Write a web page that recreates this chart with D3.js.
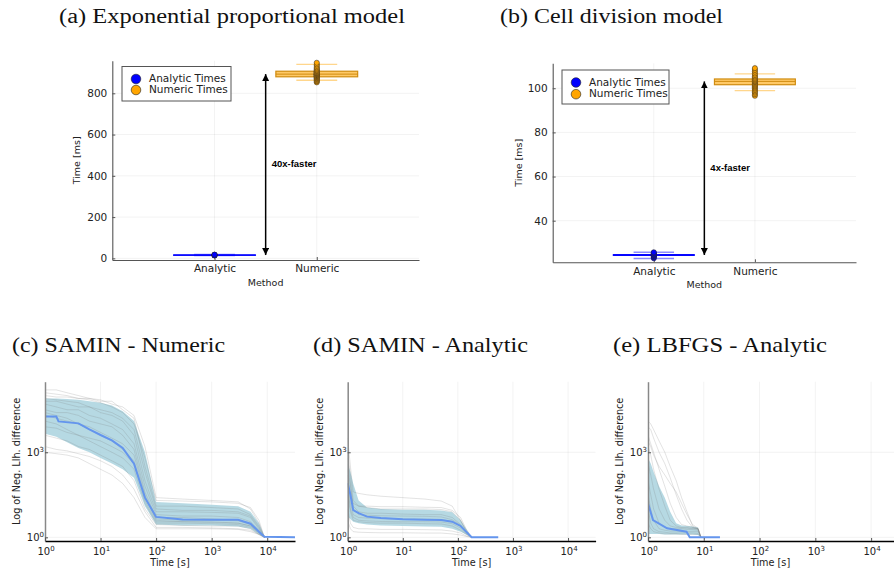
<!DOCTYPE html>
<html lang="en">
<head>
<meta charset="UTF-8">
<title>Analytic vs numeric gradients</title>
<script src="https://cdn.jsdelivr.net/npm/d3@7"></script>
<style>
  body { margin: 0; padding: 0; background: #fff; }
  svg { display: block; font-family: "DejaVu Sans", sans-serif; }
  .title { font-family: "Liberation Serif", serif; fill: #111; }
  .tick text { font-family: "DejaVu Sans", sans-serif; }
</style>
</head>
<body>
<svg width="894" height="572"></svg>
<script>
// ---------- data: timing box plots (ms) ----------
const methods = ['Analytic', 'Numeric']
const aTicks = [0, 200, 400, 600, 800]
const bTicks = [40, 60, 80, 100]
// [lower whisker, q1, median, q3, upper whisker]
const aAnalyticBox = [13, 15.6, 16, 16.4, 19]
const aNumericBox = [863, 880, 893, 907, 940]
const bAnalyticBox = [22.9, 24.3, 24.45, 24.6, 25.7]
const bNumericBox = [98.9, 101.6, 103.1, 104.2, 106.5]
const aAnalyticTimes = [14, 15, 15.5, 16, 16, 16.5, 17, 18]
const aNumericTimes = [853, 858, 862, 866, 870, 873, 876, 879, 881, 883, 885, 887, 889, 890, 892,
  893, 895, 897, 899, 901, 903, 905, 908, 911, 915, 920, 926, 933, 940, 948]
const bAnalyticTimes = [23.0, 23.4, 23.8, 24.1, 24.3, 24.4, 24.5, 24.6, 24.8, 25.1, 25.4, 25.7]
const bNumericTimes = [96.6, 97.3, 98.0, 98.6, 99.2, 99.8, 100.3, 100.8, 101.2, 101.6, 102.0, 102.4,
  102.8, 103.1, 103.5, 103.9, 104.3, 104.8, 105.4, 106.0, 106.7, 107.5, 108.3, 109.1]

// ---------- data: convergence traces (time in s, values as log10 of neg. llh difference) ----------
const cTimes = [1, 1.6, 2.5, 4, 6.3, 10, 16, 25, 40, 63, 100, 300, 1000, 3000, 5000, 7100, 8900]
const cUpper = [4.9, 4.9, 4.88, 4.85, 4.8, 4.75, 4.65, 4.45, 4.1, 3.0, 1.25, 1.2, 1.15, 1.1, 0.9, 0.5, 0.05]
const cLower = [3.65, 3.55, 3.35, 3.15, 3.0, 2.8, 2.6, 2.4, 2.1, 1.1, 0.45, 0.42, 0.42, 0.38, 0.3, 0.1, 0]
const cMedTimes = [1, 1.6, 1.75, 4, 6.3, 10, 16, 25, 40, 63, 100, 300, 1000, 3000, 5000, 7100, 8900, 31600]
const cMedian = [4.26, 4.26, 4.09, 4.02, 3.81, 3.61, 3.42, 3.15, 2.6, 1.4, 0.72, 0.63, 0.62, 0.62, 0.48, 0.2, 0.02, 0]
const cTraces = [
  [5.2, 5.2, 5.1, 5.0, 4.9, 4.85, 4.7, 4.6, 4.3, 3.2, 1.4, 1.35, 1.3, 1.25, 1.0, 0.5, 0],
  [5.0, 4.95, 4.95, 4.9, 4.9, 4.8, 4.8, 4.5, 4.2, 2.5, 1.1, 1.1, 1.05, 1.0, 0.8, 0.4, 0],
  [4.7, 4.6, 4.5, 4.5, 4.3, 4.2, 4.0, 3.8, 3.3, 1.8, 0.8, 0.75, 0.75, 0.7, 0.55, 0.25, 0],
  [4.4, 4.3, 4.2, 4.0, 3.9, 3.7, 3.5, 3.3, 2.9, 1.5, 0.6, 0.55, 0.55, 0.5, 0.4, 0.2, 0],
  [4.1, 4.0, 3.8, 3.6, 3.4, 3.2, 3.0, 2.8, 2.4, 1.2, 0.5, 0.5, 0.48, 0.45, 0.35, 0.15, 0],
  [3.0, 2.95, 2.9, 2.8, 2.6, 2.4, 2.2, 1.9, 1.4, 0.7, 0.3, 0.3, 0.3, 0.28, 0.2, 0.1, 0],
  [3.2, 3.1, 3.05, 2.95, 2.85, 2.7, 2.5, 2.2, 1.7, 0.9, 0.35, 0.35, 0.33, 0.3, 0.25, 0.1, 0],
  [4.8, 4.8, 4.7, 4.6, 4.6, 4.4, 4.3, 4.1, 3.6, 2.0, 0.9, 0.9, 0.88, 0.85, 0.7, 0.3, 0],
  [4.5, 4.4, 4.4, 4.3, 4.1, 4.0, 3.9, 3.6, 3.1, 1.6, 0.7, 0.7, 0.65, 0.6, 0.5, 0.2, 0],
  [3.6, 3.5, 3.4, 3.2, 3.1, 2.9, 2.7, 2.5, 2.0, 1.0, 0.45, 0.42, 0.4, 0.4, 0.3, 0.1, 0],
  [5.1, 5.05, 5.0, 4.9, 4.85, 4.75, 4.6, 4.4, 4.0, 2.8, 1.3, 1.28, 1.25, 1.2, 1.05, 0.6, 0],
  [3.9, 3.85, 3.7, 3.6, 3.5, 3.4, 3.2, 3.0, 2.6, 1.3, 0.55, 0.55, 0.52, 0.5, 0.4, 0.15, 0],
  [4.3, 4.2, 4.1, 4.0, 3.8, 3.6, 3.4, 3.1, 2.7, 1.4, 0.65, 0.6, 0.6, 0.58, 0.45, 0.2, 0],
  [4.9, 4.85, 4.8, 4.75, 4.6, 4.5, 4.4, 4.2, 3.8, 2.3, 1.0, 0.95, 0.95, 0.9, 0.75, 0.35, 0]
]

const dTimes = [1, 1.12, 1.26, 1.58, 2.24, 4, 10, 25, 50, 79, 112, 141, 178]
const dUpper = [2.61, 2.3, 1.9, 1.3, 1.05, 1.0, 0.97, 0.97, 0.95, 0.88, 0.6, 0.3, 0]
const dLower = [0.73, 0.65, 0.55, 0.5, 0.45, 0.42, 0.4, 0.38, 0.37, 0.3, 0.2, 0.1, 0]
const dMedTimes = [1, 1.12, 1.26, 1.58, 2.24, 4, 10, 25, 50, 79, 112, 141, 178, 540]
const dMedian = [1.91, 1.5, 0.96, 0.85, 0.73, 0.68, 0.64, 0.62, 0.61, 0.55, 0.4, 0.2, 0, 0]
const dTraces = [
  [3.5, 2.5, 1.6, 1.55, 1.5, 1.45, 1.4, 1.35, 1.28, 1.1, 0.6, 0.2, 0],
  [3.0, 2.2, 1.3, 1.1, 1.05, 1.0, 1.0, 1.0, 0.98, 0.9, 0.6, 0.25, 0],
  [2.4, 1.8, 1.1, 0.9, 0.85, 0.85, 0.82, 0.8, 0.8, 0.7, 0.45, 0.2, 0],
  [2.0, 1.2, 0.8, 0.7, 0.68, 0.66, 0.65, 0.64, 0.63, 0.55, 0.4, 0.15, 0],
  [1.5, 0.9, 0.6, 0.55, 0.52, 0.5, 0.5, 0.48, 0.47, 0.4, 0.25, 0.1, 0],
  [1.0, 0.5, 0.35, 0.3, 0.3, 0.28, 0.28, 0.27, 0.26, 0.22, 0.15, 0.05, 0],
  [2.8, 1.9, 1.0, 0.8, 0.78, 0.76, 0.75, 0.74, 0.72, 0.62, 0.42, 0.18, 0],
  [0.6, 0.3, 0.2, 0.18, 0.17, 0.16, 0.16, 0.15, 0.15, 0.12, 0.08, 0.03, 0],
  [2.2, 1.5, 1.2, 1.1, 1.1, 1.08, 1.08, 1.06, 1.05, 0.95, 0.7, 0.3, 0],
  [1.8, 1.0, 0.7, 0.6, 0.58, 0.56, 0.55, 0.55, 0.54, 0.48, 0.33, 0.12, 0]
]

const eTimes = [1, 1.12, 1.26, 1.58, 2.0, 2.5, 3.2, 4.0, 5.0, 6.3, 7.9, 8.9]
const eUpper = [2.8, 2.6, 2.3, 1.8, 1.4, 0.9, 0.5, 0.42, 0.4, 0.38, 0.35, 0]
const eLower = [0.12, 0.12, 0.12, 0.12, 0.1, 0.1, 0.1, 0.1, 0.1, 0.1, 0.08, 0]
const eMedTimes = [1, 1.23, 2.2, 4.9, 5.6, 19.5]
const eMedian = [1.2, 0.61, 0.32, 0.2, 0, 0]
const eTraces = [
  [4.1, 4.0, 3.8, 3.4, 3.0, 2.5, 2.0, 1.4, 0.9, 0.4, 0.3, 0],
  [3.9, 3.8, 3.5, 3.0, 2.6, 2.1, 1.5, 1.0, 0.6, 0.35, 0.3, 0],
  [3.6, 3.3, 3.0, 2.4, 1.8, 1.2, 0.7, 0.45, 0.4, 0.35, 0.3, 0],
  [3.2, 2.9, 2.4, 1.7, 1.1, 0.6, 0.4, 0.35, 0.35, 0.32, 0.3, 0],
  [2.6, 2.2, 1.7, 1.0, 0.6, 0.4, 0.35, 0.33, 0.32, 0.3, 0.28, 0],
  [2.0, 1.5, 1.0, 0.5, 0.35, 0.3, 0.3, 0.3, 0.28, 0.27, 0.25, 0],
  [1.5, 1.0, 0.6, 0.3, 0.25, 0.22, 0.22, 0.2, 0.2, 0.2, 0.2, 0],
  [1.0, 0.5, 0.3, 0.2, 0.18, 0.15, 0.15, 0.15, 0.15, 0.15, 0.14, 0],
  [0.5, 0.3, 0.2, 0.15, 0.12, 0.12, 0.12, 0.1, 0.1, 0.1, 0.1, 0],
  [3.4, 3.2, 2.9, 2.5, 2.2, 1.9, 1.6, 1.2, 0.8, 0.45, 0.32, 0]
]
const logTicksX = [1, 10, 100, 1000, 10000]
const logTicksY = [1, 1000]

// ---------- drawing ----------
const svg = d3.select('svg')
const colors = ['#0000ff', '#ffa500']

const defs = svg.append('defs')
defs.append('marker')
    .attr('id', 'head')
    .attr('viewBox', '0 0 10 10')
    .attr('refX', 10).attr('refY', 5)
    .attr('markerWidth', 7).attr('markerHeight', 7)
    .attr('markerUnits', 'userSpaceOnUse')
    .attr('orient', 'auto-start-reverse')
  .append('path')
    .attr('d', 'M0,0L10,5L0,10z')
    .attr('fill', '#000')

var title = (txt, x, y, size, len) => {
    svg.append('text')
        .attr('class', 'title')
        .attr('x', x).attr('y', y)
        .attr('font-size', size)
        .attr('textLength', len)
        .attr('lengthAdjust', 'spacingAndGlyphs')
        .text(txt)
}

function drawBoxPanel(p) {
    const x = d3.scaleLinear().domain([0, 3]).range([p.left, p.right])
    const y = d3.scaleLinear().domain(p.yDomain).range([p.bottom, p.top])
    const g = svg.append('g')

    // grid
    g.selectAll('line.hg').data(p.yTicks).enter().append('line')
        .attr('x1', p.left).attr('x2', p.right)
        .attr('y1', d => y(d)).attr('y2', d => y(d))
        .attr('stroke', '#000').attr('stroke-opacity', 0.08).attr('stroke-width', 0.7)
    g.selectAll('line.vg').data(methods).enter().append('line')
        .attr('x1', (d, i) => x(i + 1)).attr('x2', (d, i) => x(i + 1))
        .attr('y1', p.top).attr('y2', p.bottom)
        .attr('stroke', '#000').attr('stroke-opacity', 0.08).attr('stroke-width', 0.7)

    // axes
    const ya = g.append('g').attr('transform', `translate(${p.left},0)`)
        .call(d3.axisLeft(y).tickValues(p.yTicks).tickSize(-3).tickSizeOuter(0).tickPadding(5))
    const xa = g.append('g').attr('transform', `translate(0,${p.bottom})`)
        .call(d3.axisBottom(x).tickValues([1, 2]).tickFormat(d => methods[d - 1])
            .tickSize(-3).tickSizeOuter(0).tickPadding(5))
    ;[ya, xa].forEach(a => {
        a.select('.domain').attr('stroke', '#555').attr('stroke-width', 1.1)
        a.selectAll('.tick line').attr('stroke', '#555')
        a.selectAll('.tick text').attr('font-size', 10.5).attr('fill', '#222')
    })

    g.append('text')
        .attr('transform', `translate(${p.ylabX},${(p.top + p.bottom) / 2}) rotate(-90)`)
        .attr('text-anchor', 'middle').attr('dominant-baseline', 'middle')
        .attr('font-size', 9.5).attr('fill', '#222')
        .text('Time [ms]')
    g.append('text')
        .attr('x', (p.left + p.right) / 2).attr('y', p.bottom + 26)
        .attr('text-anchor', 'middle')
        .attr('font-size', 9.5).attr('fill', '#222')
        .text('Method')

    // boxes
    p.boxes.forEach((b, i) => {
        const cx = x(i + 1), col = colors[i]
        const hw = x(0.4) - x(0), cw = x(0.2) - x(0)
        const bg = g.append('g')
        bg.append('line').attr('x1', cx).attr('x2', cx).attr('y1', y(b[0])).attr('y2', y(b[4]))
            .attr('stroke', col).attr('stroke-opacity', 0.5)
        ;[b[0], b[4]].forEach(v => {
            bg.append('line').attr('x1', cx - cw).attr('x2', cx + cw).attr('y1', y(v)).attr('y2', y(v))
                .attr('stroke', col).attr('stroke-opacity', 0.45).attr('stroke-width', 1.4)
        })
        bg.append('rect')
            .attr('x', cx - hw).attr('width', 2 * hw)
            .attr('y', y(b[3])).attr('height', Math.max(y(b[1]) - y(b[3]), 0.3))
            .attr('fill', col).attr('fill-opacity', 0.6)
            .attr('stroke', i == 0 ? col : '#d08c10').attr('stroke-width', 1.2)
        bg.append('line').attr('x1', cx - hw).attr('x2', cx + hw).attr('y1', y(b[2])).attr('y2', y(b[2]))
            .attr('stroke', i == 0 ? col : '#d08c10').attr('stroke-width', 1)
        bg.selectAll('circle').data(p.times[i]).enter().append('circle')
            .attr('cx', cx).attr('cy', d => y(d)).attr('r', 2.6)
            .attr('fill', col).attr('stroke', '#222').attr('stroke-width', 0.5)
    })

    // speed-up arrow
    const ax = x(1.5)
    const ay0 = y(p.boxes[0][2]), ay1 = y(p.boxes[1][2])
    g.append('line')
        .attr('x1', ax).attr('x2', ax).attr('y1', ay0).attr('y2', ay1)
        .attr('stroke', '#000').attr('stroke-width', 1.5)
        .attr('marker-start', 'url(#head)').attr('marker-end', 'url(#head)')
    g.append('text')
        .attr('x', ax + 6).attr('y', (ay0 + ay1) / 2)
        .attr('dominant-baseline', 'middle')
        .attr('font-family', '"Liberation Sans", Arial, sans-serif')
        .attr('font-weight', 'bold').attr('font-size', 9.5)
        .text(p.speedup)

    // legend
    const L = p.legend
    const lg = g.append('g')
    lg.append('rect').attr('x', L.x).attr('y', L.y).attr('width', L.w).attr('height', L.h)
        .attr('fill', '#fff').attr('stroke', '#555').attr('stroke-width', 1)
    ;['Analytic Times', 'Numeric Times'].forEach((t, i) => {
        const yy = L.y + 12.5 + i * L.dy
        lg.append('circle').attr('cx', L.x + 14).attr('cy', yy).attr('r', 4.8)
            .attr('fill', colors[i]).attr('stroke', '#222').attr('stroke-width', 0.6)
        lg.append('text').attr('x', L.x + 27).attr('y', yy).attr('dominant-baseline', 'middle')
            .attr('font-size', 10.5).attr('fill', '#222').text(t)
    })
}

function drawTracePanel(p) {
    const top = 381.7, bottom = 541
    const x = d3.scaleLog().domain([1, Math.pow(10, 4.5)]).range([p.left, p.right])
    const y = d3.scaleLog().domain([Math.pow(10, -0.13), Math.pow(10, 5.49)]).range([bottom, top])
    const g = svg.append('g')
    const clipId = 'clip' + p.id
    defs.append('clipPath').attr('id', clipId)
        .append('rect').attr('x', p.left).attr('y', top).attr('width', p.right - p.left).attr('height', bottom - top)

    g.selectAll('line.vg').data(logTicksX.slice(1)).enter().append('line')
        .attr('x1', d => x(d)).attr('x2', d => x(d)).attr('y1', top).attr('y2', bottom)
        .attr('stroke', '#000').attr('stroke-opacity', 0.08).attr('stroke-width', 0.7)
    g.selectAll('line.hg').data(logTicksY).enter().append('line')
        .attr('x1', p.left).attr('x2', p.right).attr('y1', d => y(d)).attr('y2', d => y(d))
        .attr('stroke', '#000').attr('stroke-opacity', 0.08).attr('stroke-width', 0.7)

    const pg = g.append('g').attr('clip-path', `url(#${clipId})`)
    const p10 = v => Math.pow(10, v)

    const band = d3.area()
        .x((d, i) => x(p.times[i]))
        .y0((d, i) => y(p10(p.lower[i])))
        .y1((d, i) => y(p10(p.upper[i])))
    pg.append('path').datum(p.upper).attr('d', band)
        .attr('fill', '#a9d2de').attr('fill-opacity', 0.85)

    const trace = d3.line()
        .x((d, i) => x(p.times[i]))
        .y(d => y(p10(d)))
    pg.selectAll('path.tr').data(p.traces).enter().append('path')
        .attr('d', trace)
        .attr('fill', 'none').attr('stroke', '#777')
        .attr('stroke-opacity', 0.35).attr('stroke-width', 0.6)

    const med = d3.line()
        .x((d, i) => x(p.medTimes[i]))
        .y(d => y(p10(d)))
    pg.append('path').datum(p.median).attr('d', med)
        .attr('fill', 'none').attr('stroke', '#6495ed').attr('stroke-width', 2)

    // axes
    const ya = g.append('g').attr('transform', `translate(${p.left},0)`)
        .call(d3.axisLeft(y).tickValues(logTicksY).tickFormat('').tickSize(-3).tickSizeOuter(0))
    ya.select('.domain').attr('stroke', '#888').attr('stroke-width', 1.5)
    ya.selectAll('.tick line').attr('stroke', '#555')
    const xa = g.append('g').attr('transform', `translate(0,${bottom})`)
        .call(d3.axisBottom(x).tickValues(logTicksX).tickFormat('').tickSize(-3).tickSizeOuter(0))
    xa.select('.domain').attr('stroke', '#000').attr('stroke-width', 1.5)
    xa.selectAll('.tick line').attr('stroke', '#555')

    // tick labels with superscript exponents
    var expLabel = (sel, d) => {
        sel.append('tspan').text('10')
        sel.append('tspan').attr('dy', -4).attr('font-size', 7).text(Math.round(Math.log10(d)))
    }
    logTicksX.forEach(d => {
        g.append('text').attr('x', x(d) + 1).attr('y', bottom + 14)
            .attr('text-anchor', 'middle').attr('font-size', 10).attr('fill', '#222')
            .call(expLabel, d)
    })
    logTicksY.forEach(d => {
        g.append('text').attr('x', p.left - 1).attr('y', y(d) + 4)
            .attr('text-anchor', 'end').attr('font-size', 10).attr('fill', '#222')
            .call(expLabel, d)
    })

    g.append('text')
        .attr('transform', `translate(${p.left - 28},${(top + bottom) / 2}) rotate(-90)`)
        .attr('text-anchor', 'middle').attr('dominant-baseline', 'middle')
        .attr('font-size', 9.7).attr('fill', '#222')
        .text('Log of Neg. Llh. difference')
    g.append('text')
        .attr('x', (p.left + x(Math.pow(10, 4.5))) / 2 - (p.id == 'e' ? 3 : 0)).attr('y', 566)
        .attr('text-anchor', 'middle').attr('font-size', 9.7).attr('fill', '#222')
        .text('Time [s]')
}

title('(a) Exponential proportional model', 59, 23, 20, 346)
title('(b) Cell division model', 500, 23, 20, 223)
title('(c) SAMIN - Numeric', 12, 352, 21, 213)
title('(d) SAMIN - Analytic', 313, 352, 21, 215)
title('(e) LBFGS - Analytic', 613, 352, 21, 214)

drawBoxPanel({
    left: 112.3, right: 419, top: 60.7, bottom: 260, yDomain: [-8, 958], yTicks: aTicks,
    boxes: [aAnalyticBox, aNumericBox], times: [aAnalyticTimes, aNumericTimes],
    speedup: '40x-faster', ylabX: 77,
    legend: { x: 122, y: 66.5, w: 109, h: 34.5, dy: 11 }
})
drawBoxPanel({
    left: 552.7, right: 856, top: 63.3, bottom: 262.3, yDomain: [21.15, 111.3], yTicks: bTicks,
    boxes: [bAnalyticBox, bNumericBox], times: [bAnalyticTimes, bNumericTimes],
    speedup: '4x-faster', ylabX: 519,
    legend: { x: 562, y: 70, w: 107, h: 34, dy: 11.7 }
})

drawTracePanel({ id: 'c', left: 45, right: 295, times: cTimes, upper: cUpper, lower: cLower,
    medTimes: cMedTimes, median: cMedian, traces: cTraces })
drawTracePanel({ id: 'd', left: 347.7, right: 595.6, times: dTimes, upper: dUpper, lower: dLower,
    medTimes: dMedTimes, median: dMedian, traces: dTraces })
drawTracePanel({ id: 'e', left: 648, right: 899, times: eTimes, upper: eUpper, lower: eLower,
    medTimes: eMedTimes, median: eMedian, traces: eTraces })
</script>
</body>
</html>
